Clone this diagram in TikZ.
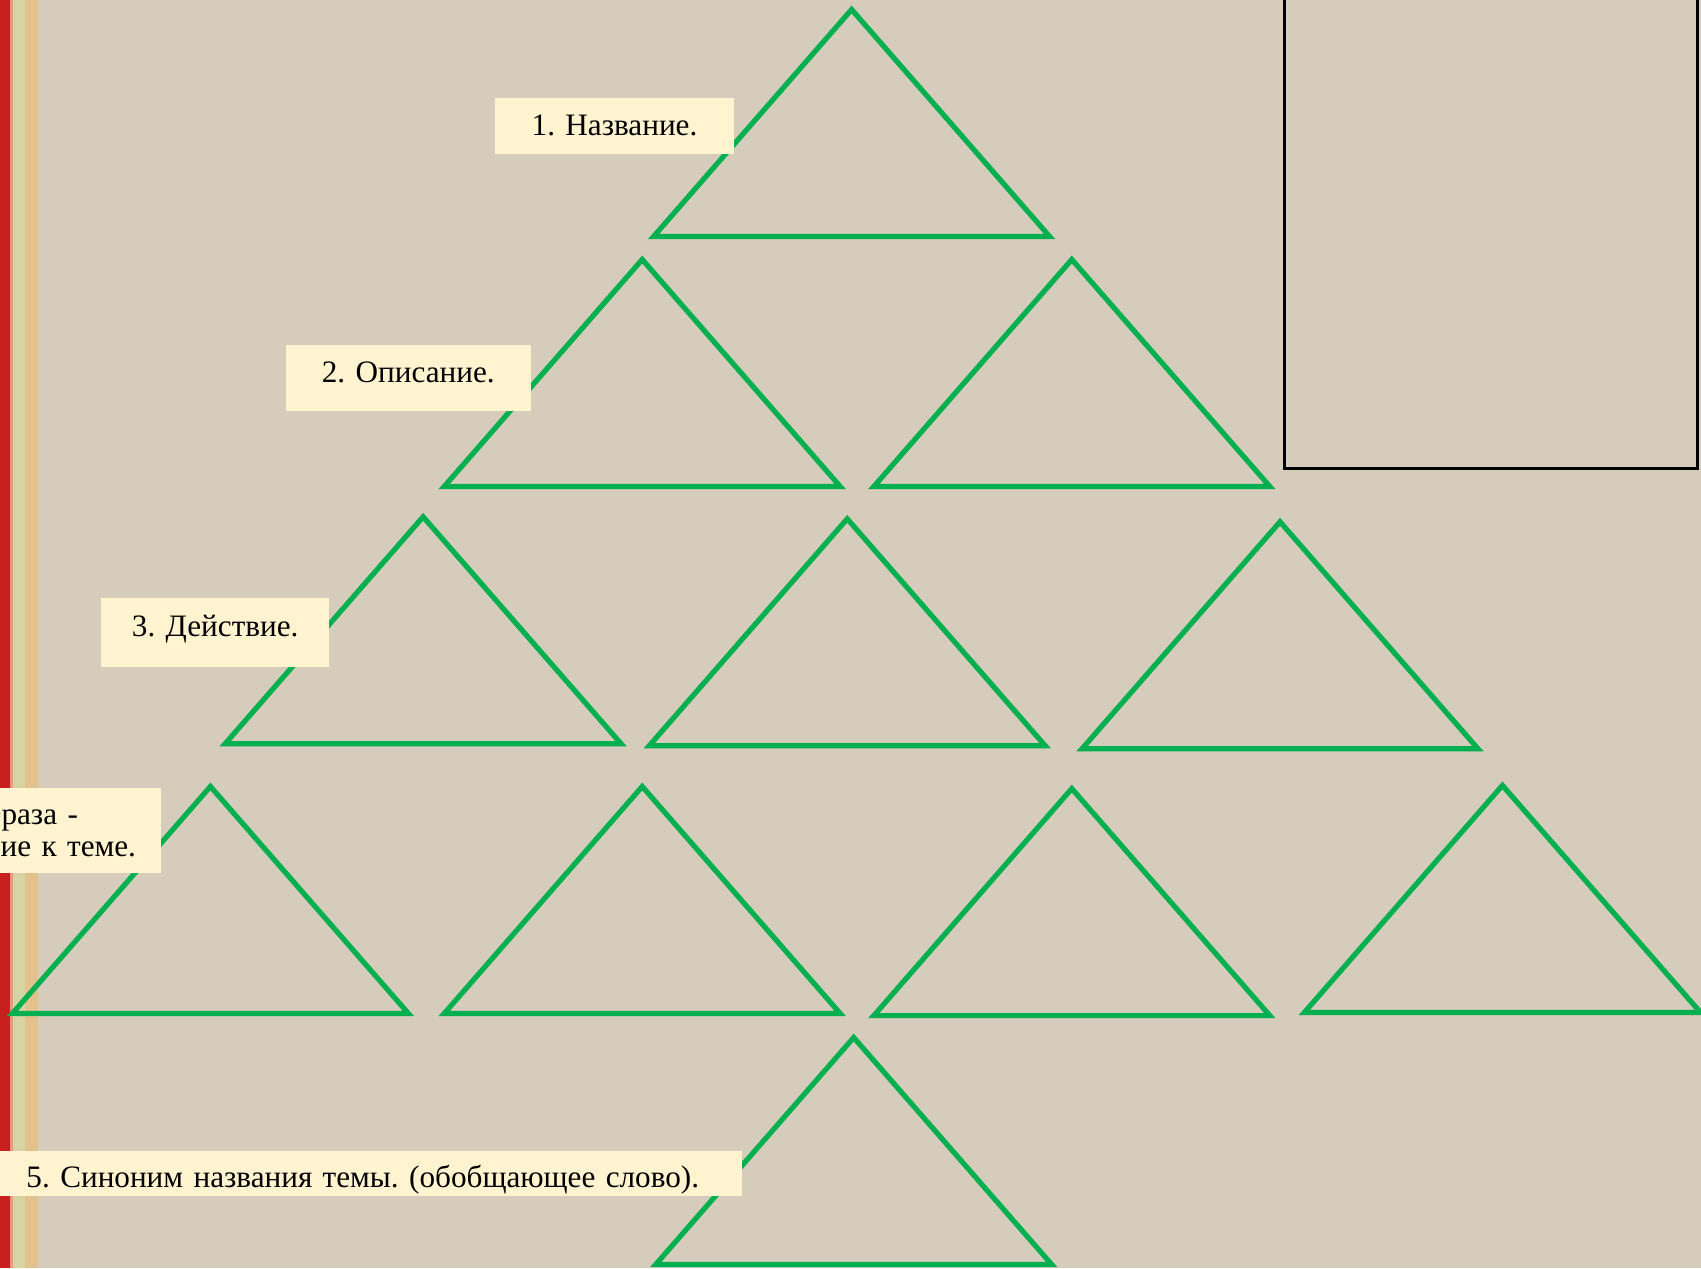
\documentclass[tikz,border=0pt]{standalone}
\usepackage{fontspec}
\setmainfont{Liberation Serif}
\frenchspacing
\definecolor{linen}{HTML}{D6CCBC}
\definecolor{leafgreen}{HTML}{00B050}
\definecolor{cream}{HTML}{FFF3D0}
\definecolor{stripered}{HTML}{C8201E}
\definecolor{stripepink}{HTML}{E89A80}
\definecolor{stripeolive}{HTML}{D6D4A2}
\definecolor{stripetan}{HTML}{E2C28C}

\begin{document}
\begin{tikzpicture}[x=0.5pt, y=-0.5pt,
	tri/.style={draw=leafgreen, line width=2.6pt, line join=miter},
	namebox/.style={fill=cream, inner sep=0pt, align=center, font=\fontsize{15.6}{16.4}\selectfont}]
	\useasboundingbox (0,0) rectangle (1701,1268);
	\clip (0,0) rectangle (1701,1268);
	% background and left stripe
	\fill[linen] (0,0) rectangle (1701,1268);
	\fill[stripered] (0,0) rectangle (10,1268);
	\fill[stripepink] (10,0) rectangle (13,1268);
	\fill[stripeolive] (13,0) rectangle (25,1268);
	\fill[stripetan] (25,0) rectangle (38,1268);
	% empty frame top right
	\draw[line width=1.5pt] (1284,-10) rectangle (1697.5,468);
	% row 1
	\draw[tri] (851.6,9.5) -- ++(-198,227) -- ++(396,0) -- cycle;
	% row 2
	\draw[tri] (642.2,259.5) -- ++(-198,227) -- ++(396,0) -- cycle;
	\draw[tri] (1071.8,259.5) -- ++(-198,227) -- ++(396,0) -- cycle;
	% row 3
	\draw[tri] (423.1,516.8) -- ++(-198,227) -- ++(396,0) -- cycle;
	\draw[tri] (847.2,518.8) -- ++(-198,227) -- ++(396,0) -- cycle;
	\draw[tri] (1280,521.8) -- ++(-198,227) -- ++(396,0) -- cycle;
	% row 4
	\draw[tri] (210.4,786.5) -- ++(-198,227) -- ++(396,0) -- cycle;
	\draw[tri] (642.2,786.5) -- ++(-198,227) -- ++(396,0) -- cycle;
	\draw[tri] (1071.8,788.6) -- ++(-198,227) -- ++(396,0) -- cycle;
	\draw[tri] (1502.4,785.4) -- ++(-198,227) -- ++(396,0) -- cycle;
	% row 5
	\draw[tri] (853.7,1037.5) -- ++(-198,227) -- ++(396,0) -- cycle;
	% labels
	\node[namebox, text width=119.5pt, text height=18.5pt, text depth=9.5pt, anchor=base] (name) at (614.5,135) {1. Название.};
	\node[namebox, text width=122.3pt, text height=18.6pt, text depth=14.2pt, anchor=base] (descr) at (408.3,382.3) {2. Описание.};
	\node[namebox, text width=114.2pt, text height=19.5pt, text depth=15pt, anchor=base] (action) at (215.2,636.7) {3. Действие.};
	\node[namebox, text width=150pt, minimum height=42.5pt] (phrase) at (10.5,830.5) {4. Фраза -\\отношение к теме.};
	\node[namebox, text width=378.8pt, text height=18pt, text depth=4.3pt, anchor=base] (synonym) at (362.8,1187) {5. Синоним названия темы. (обобщающее слово).};
\end{tikzpicture}
\end{document}
